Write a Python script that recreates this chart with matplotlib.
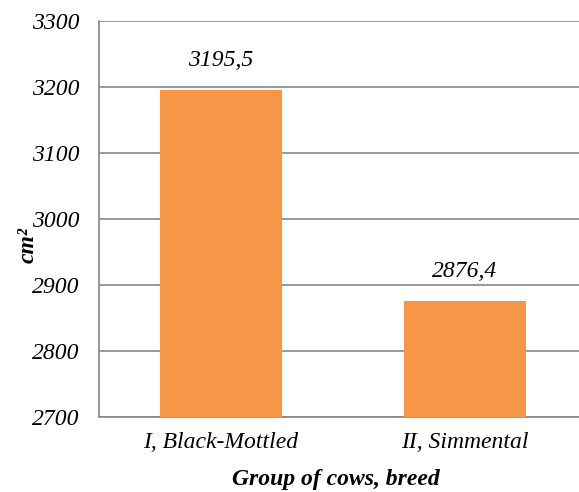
import matplotlib.pyplot as plt

groups = ["I, Black-Mottled", "II, Simmental"]
values = [3195.5, 2876.4]
value_labels = ["3195,5", "2876,4"]
yticks = [2700, 2800, 2900, 3000, 3100, 3200, 3300]

plt.rcParams['font.family'] = ['Liberation Serif', 'DejaVu Serif']
fs = 17

fig = plt.figure(figsize=(5.79, 4.92), dpi=100)
ax = fig.add_axes([99 / 579, 75 / 492, 488 / 579, 396 / 492])

x = range(len(groups))
ax.bar(x, values, width=0.5, color='#F79646', zorder=3)
ax.set_xlim(-0.5, 1.5)
ax.set_ylim(2700, 3300)
ax.set_yticks(yticks)
ax.set_xticks(list(x))
ax.set_xticklabels(groups, fontsize=fs, style='italic')
ax.set_yticklabels([str(t) for t in yticks], fontsize=fs, style='italic')
ax.tick_params(axis='both', length=0)
ax.tick_params(axis='y', pad=14)
ax.tick_params(axis='x', pad=11)

ax.grid(axis='y', color='#868686', linewidth=1.2, zorder=0)
for side in ['top', 'right']:
    ax.spines[side].set_visible(False)
for side in ['left', 'bottom']:
    ax.spines[side].set_color('#868686')
    ax.spines[side].set_linewidth(1.2)

for xi, v, lab in zip(x, values, value_labels):
    ax.annotate(lab, (xi, v), xytext=(0, 21), textcoords='offset points',
                ha='center', va='center', fontsize=fs, style='italic')

fig.text(28 / 579, 1 - 245 / 492, 'cm²', rotation=90, ha='center', va='center',
         fontsize=fs, style='italic', weight='bold')
fig.text(336 / 579, 1 - 480 / 492, 'Group of cows, breed', ha='center', va='center',
         fontsize=fs, style='italic', weight='bold')

fig.savefig('out.png', dpi=100)
